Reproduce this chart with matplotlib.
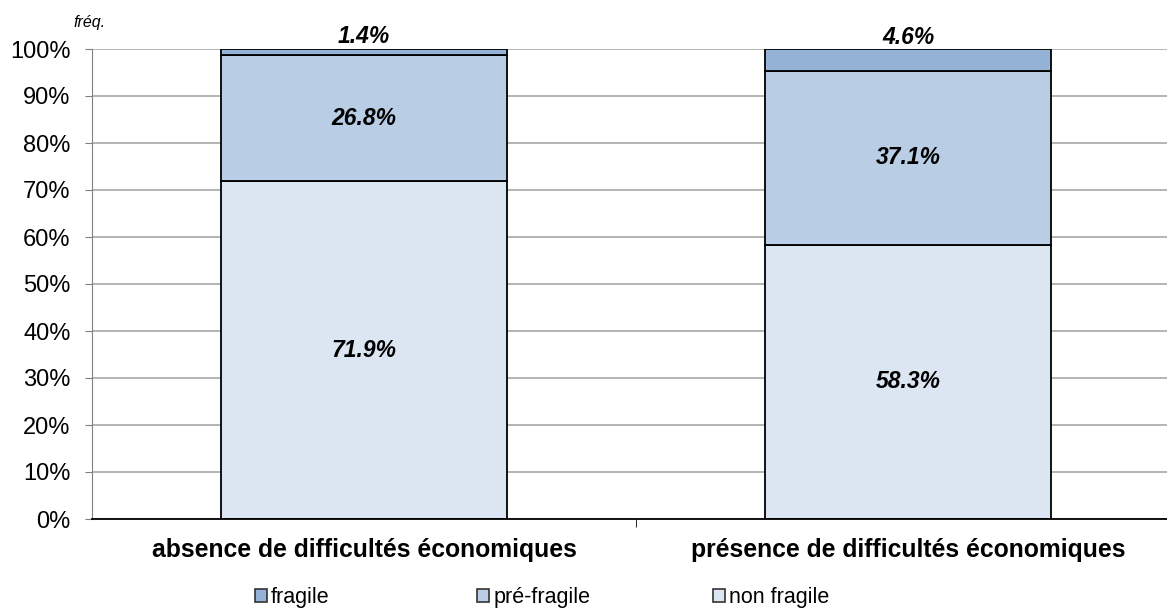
import numpy as np
import matplotlib
matplotlib.use("Agg")
import matplotlib.pyplot as plt
from matplotlib.patches import Patch

plt.rcParams['font.family'] = ['Liberation Sans', 'DejaVu Sans']

categories = ["absence de difficultés économiques", "présence de difficultés économiques"]
series = ["non fragile", "pré-fragile", "fragile"]
non_fragile = [71.9, 58.3]
pre_fragile = [26.8, 37.1]
fragile = [1.4, 4.6]
colors = ["#DCE6F2", "#B9CDE5", "#95B3D7"]

fig = plt.figure(figsize=(11.67, 6.10), dpi=100)
ax = fig.add_axes([92/1167, 91/610, 1088/1167, 470/610])

x = np.arange(len(categories))
width = 0.526
bottom = np.zeros(len(categories))
for name, vals, col in zip(series, [non_fragile, pre_fragile, fragile], colors):
    vals = np.array(vals)
    ax.bar(x, vals, width, bottom=bottom, color=col, edgecolor="black",
           linewidth=1.3, label=name, zorder=3)
    for xi, b, v in zip(x, bottom, vals):
        if v < 10:
            y = b + v + 2.5
        else:
            y = b + v / 2
        ax.text(xi, y, f"{v:.1f}%", ha="center", va="center", fontsize=16.5,
                fontweight="bold", fontstyle="italic", zorder=4)
    bottom += vals

ax.set_xlim(-0.5, 1.5)
ax.set_ylim(0, 100)
ax.set_yticks(np.arange(0, 101, 10))
ax.set_yticklabels([f"{t}%" for t in range(0, 101, 10)], fontsize=17)
ax.yaxis.grid(True, color="#A0A0A0", linewidth=1.1, zorder=0)
ax.set_xticks(x)
ax.set_xticklabels(categories, fontsize=17.8, fontweight="bold")
ax.set_xticks([0.5], minor=True)
ax.tick_params(axis="x", which="major", length=0, pad=13.5)
ax.tick_params(axis="x", which="minor", length=6, color="black", direction="out")
ax.tick_params(axis="y", length=5, color="#808080", direction="out", pad=10.5)
for s in ["top", "right"]:
    ax.spines[s].set_visible(False)
ax.spines["left"].set_color("#808080")
ax.spines["bottom"].set_color("black")
ax.spines["bottom"].set_linewidth(1.3)
ax.spines["bottom"].set_zorder(5)

fig.text(90/1167, 1 - 22/610, "fréq.", fontsize=11.5, fontstyle="italic",
         ha="center", va="center")

# legend entries at fixed column positions (Excel style)
legend_x = [255, 477, 713]
for c, name, lx in zip(colors[::-1], series[::-1], legend_x):
    h = Patch(facecolor=c, edgecolor="#333333", linewidth=1.2)
    fig.legend([h], [name], loc="center left", bbox_to_anchor=(lx/1167, 1 - 598/610),
               frameon=False, fontsize=15.5, handlelength=0.55, handleheight=0.55,
               handletextpad=0.2, borderpad=0, borderaxespad=0)

fig.savefig("out.png", dpi=100)
